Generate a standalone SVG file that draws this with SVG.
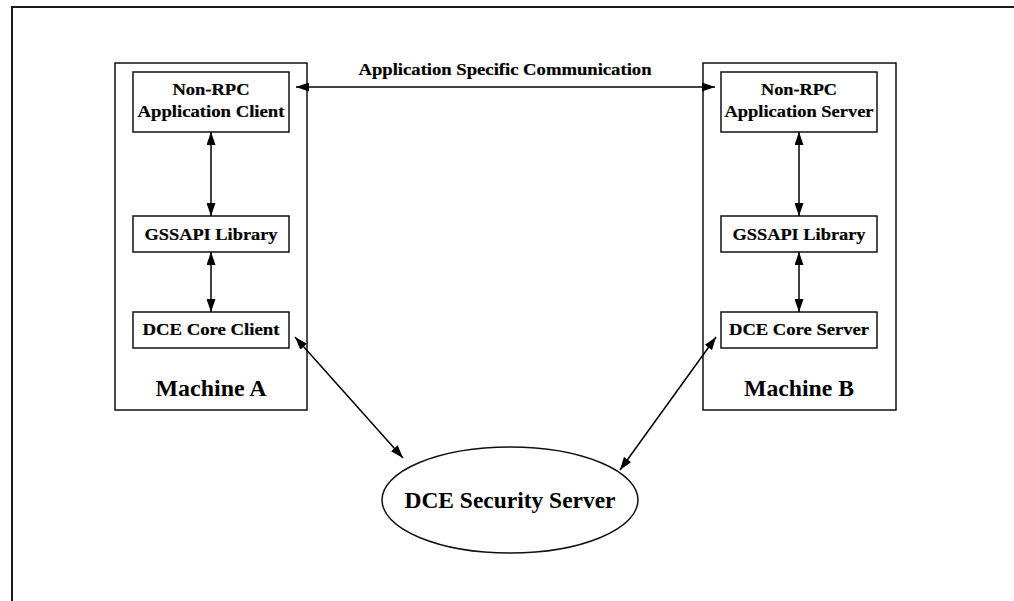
<svg xmlns="http://www.w3.org/2000/svg" width="1014" height="601" viewBox="0 0 1014 601">
  <defs>
    <marker id="head" viewBox="0 0 13 9" refX="13" refY="4.5" markerWidth="13" markerHeight="9" markerUnits="userSpaceOnUse" orient="auto-start-reverse">
      <path d="M0,0 L13,4.5 L0,9 z" fill="#000"/>
    </marker>
    <style>
      .frame { fill: none; stroke: #1a1a1a; stroke-width: 2; }
      .machine { fill: #fff; stroke: #111; stroke-width: 1.5; }
      .box { fill: #fff; stroke: #111; stroke-width: 1.5; }
      .oval { fill: #fff; stroke: #111; stroke-width: 1.5; }
      .lbl { font-family: "Liberation Serif", "Times New Roman", serif; font-weight: bold; font-size: 16px; fill: #000; text-anchor: middle; stroke: #000; stroke-width: 0.2; }
      .big { font-family: "Liberation Serif", "Times New Roman", serif; font-weight: bold; font-size: 24px; fill: #000; text-anchor: middle; }
      .conn { stroke: #000; stroke-width: 1.5; fill: none; marker-start: url(#head); marker-end: url(#head); }
    </style>
  </defs>

  <rect width="1014" height="601" fill="#fff"/>
  <!-- page frame, open to the right and bottom -->
  <path class="frame" d="M12,601 V7 H1014"/>

  <g id="machine-a">
    <rect class="machine" x="115" y="63" width="192" height="347"/>
    <text class="big" x="211" y="396" textLength="111" lengthAdjust="spacingAndGlyphs">Machine A</text>
  </g>
  <g id="machine-b">
    <rect class="machine" x="703" y="63" width="193" height="347"/>
    <text class="big" x="799" y="396" textLength="110" lengthAdjust="spacingAndGlyphs">Machine B</text>
  </g>

  <g id="app-client">
    <rect class="box" x="133" y="72" width="156" height="60"/>
    <text class="lbl" x="211" y="95" textLength="77" lengthAdjust="spacingAndGlyphs">Non-RPC</text>
    <text class="lbl" x="211" y="117" textLength="147" lengthAdjust="spacingAndGlyphs">Application Client</text>
  </g>
  <g id="gssapi-a">
    <rect class="box" x="133" y="216" width="156" height="36"/>
    <text class="lbl" x="211" y="240" textLength="133" lengthAdjust="spacingAndGlyphs">GSSAPI Library</text>
  </g>
  <g id="core-client">
    <rect class="box" x="133" y="312" width="156" height="36"/>
    <text class="lbl" x="211" y="335" textLength="137" lengthAdjust="spacingAndGlyphs">DCE Core Client</text>
  </g>

  <g id="app-server">
    <rect class="box" x="721" y="72" width="156" height="60"/>
    <text class="lbl" x="799" y="95" textLength="76" lengthAdjust="spacingAndGlyphs">Non-RPC</text>
    <text class="lbl" x="799" y="117" textLength="149" lengthAdjust="spacingAndGlyphs">Application Server</text>
  </g>
  <g id="gssapi-b">
    <rect class="box" x="721" y="216" width="156" height="36"/>
    <text class="lbl" x="799" y="240" textLength="133" lengthAdjust="spacingAndGlyphs">GSSAPI Library</text>
  </g>
  <g id="core-server">
    <rect class="box" x="721" y="312" width="156" height="36"/>
    <text class="lbl" x="799" y="335" textLength="140" lengthAdjust="spacingAndGlyphs">DCE Core Server</text>
  </g>

  <g id="security-server">
    <ellipse class="oval" cx="510" cy="500" rx="128" ry="53"/>
    <text class="big" x="510" y="508" textLength="211" lengthAdjust="spacingAndGlyphs">DCE Security Server</text>
  </g>

  <g id="connectors">
    <line class="conn" x1="296" y1="87" x2="715" y2="87"/>
    <text class="lbl" x="505" y="75" textLength="293" lengthAdjust="spacingAndGlyphs">Application Specific Communication</text>
    <line class="conn" x1="211" y1="132" x2="211" y2="216"/>
    <line class="conn" x1="211" y1="252" x2="211" y2="312"/>
    <line class="conn" x1="799" y1="132" x2="799" y2="216"/>
    <line class="conn" x1="799" y1="252" x2="799" y2="312"/>
    <line class="conn" x1="295" y1="337" x2="403" y2="458"/>
    <line class="conn" x1="716" y1="337" x2="620" y2="470"/>
  </g>
</svg>
